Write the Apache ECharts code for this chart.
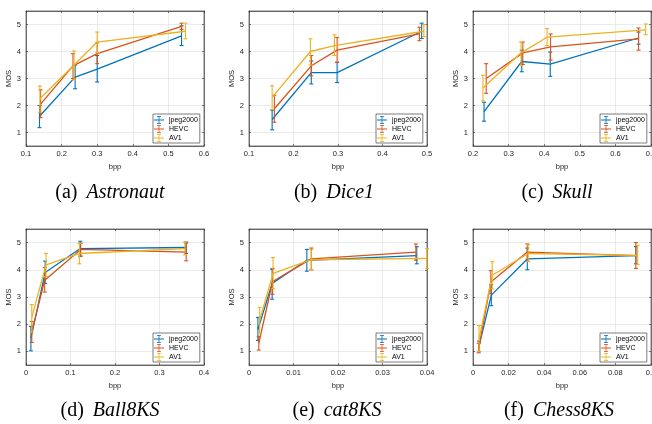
<!DOCTYPE html>
<html>
<head>
<meta charset="utf-8">
<script src="https://cdn.jsdelivr.net/npm/echarts@6/dist/echarts.min.js"></script>
<style>
html, body { margin: 0; padding: 0; background: #fff; }
#chart { width: 652px; height: 424px; }
</style>
</head>
<body>
<div id="chart"></div>
<script>
// codecs, in drawing order (MATLAB default colours)
var codecs = ['jpeg2000', 'HEVC', 'AV1'];
var colors = ['#0072BD', '#D95319', '#EDB120'];

// captions
var captionLetters = ['(a)', '(b)', '(c)', '(d)', '(e)', '(f)'];
var captionNames = ['Astronaut', 'Dice1', 'Skull', 'Ball8KS', 'cat8KS', 'Chess8KS'];

// x ticks per panel: [min, max, step]; y ticks shared
var xTicks = [[0.1, 0.6, 0.1], [0.1, 0.5, 0.1], [0.2, 0.7, 0.1], [0, 0.4, 0.1], [0, 0.04, 0.01], [0, 0.1, 0.02]];
var yTicks = [1, 2, 3, 4, 5];

// each array: rows = jpeg2000, HEVC, AV1
var astronautBpp  = [[0.138, 0.238, 0.300, 0.537], [0.141, 0.232, 0.300, 0.537], [0.139, 0.235, 0.300, 0.548]];
var astronautMos  = [[1.60, 3.05, 3.35, 4.58], [2.05, 3.47, 3.92, 4.93], [2.25, 3.50, 4.35, 4.75]];
var astronautLow  = [[1.18, 2.62, 2.87, 4.22], [1.55, 3.00, 3.55, 4.82], [1.75, 2.95, 3.95, 4.47]];
var astronautHigh = [[2.00, 3.50, 3.85, 4.95], [2.58, 3.92, 4.32, 5.05], [2.72, 4.02, 4.72, 5.05]];

var dice1Bpp  = [[0.152, 0.240, 0.298, 0.488], [0.157, 0.240, 0.298, 0.483], [0.152, 0.238, 0.292, 0.493]];
var dice1Mos  = [[1.48, 3.22, 3.22, 4.75], [1.88, 3.47, 4.05, 4.65], [2.30, 4.00, 4.22, 4.75]];
var dice1Low  = [[1.10, 2.80, 2.85, 4.48], [1.38, 3.10, 3.60, 4.40], [1.85, 3.50, 3.85, 4.55]];
var dice1High = [[1.83, 3.65, 3.60, 5.05], [2.38, 3.85, 4.52, 4.90], [2.73, 4.47, 4.62, 5.00]];

var skullBpp  = [[0.231, 0.337, 0.417, 0.665], [0.237, 0.340, 0.418, 0.665], [0.228, 0.335, 0.408, 0.685]];
var skullMos  = [[1.77, 3.63, 3.53, 4.50], [3.00, 3.95, 4.17, 4.47], [2.65, 3.95, 4.53, 4.80]];
var skullLow  = [[1.42, 3.25, 3.08, 4.27], [2.45, 3.52, 3.68, 4.05], [2.17, 3.48, 4.22, 4.62]];
var skullHigh = [[2.12, 4.05, 3.98, 4.72], [3.55, 4.35, 4.65, 4.87], [3.12, 4.35, 4.85, 5.02]];

var ballBpp  = [[0.011, 0.043, 0.122, 0.360], [0.013, 0.042, 0.123, 0.360], [0.013, 0.045, 0.120, 0.357]];
var ballMos  = [[1.48, 3.90, 4.78, 4.82], [1.72, 3.62, 4.75, 4.65], [2.25, 4.18, 4.60, 4.78]];
var ballLow  = [[1.02, 3.50, 4.50, 4.60], [1.33, 3.18, 4.50, 4.33], [1.70, 3.75, 4.22, 4.55]];
var ballHigh = [[1.92, 4.32, 5.05, 5.02], [2.10, 4.08, 4.98, 4.98], [2.72, 4.60, 4.97, 5.02]];

var catBpp  = [[0.0020, 0.0052, 0.0130, 0.0377], [0.0022, 0.0053, 0.0140, 0.0375], [0.0024, 0.0054, 0.0140, 0.0400]];
var catMos  = [[1.80, 3.50, 4.35, 4.52], [1.30, 3.57, 4.40, 4.65], [2.15, 3.87, 4.37, 4.42]];
var catLow  = [[1.40, 2.92, 3.95, 4.22], [1.05, 3.10, 4.00, 4.35], [1.65, 3.30, 4.00, 4.05]];
var catHigh = [[2.25, 4.02, 4.75, 4.85], [1.55, 4.05, 4.80, 4.95], [2.62, 4.45, 4.75, 4.78]];

var chessBpp  = [[0.0034, 0.0103, 0.0305, 0.0915], [0.0032, 0.0100, 0.0305, 0.0915], [0.0034, 0.0108, 0.0310, 0.0925]];
var chessMos  = [[1.20, 3.07, 4.40, 4.52], [1.10, 3.55, 4.65, 4.52], [1.45, 3.80, 4.60, 4.53]];
var chessLow  = [[1.00, 2.68, 4.00, 4.22], [0.95, 3.12, 4.35, 4.05], [1.00, 3.30, 4.30, 4.20]];
var chessHigh = [[1.38, 3.45, 4.80, 4.85], [1.30, 3.97, 4.95, 5.00], [1.95, 4.30, 4.92, 4.90]];

var panels = [
    [astronautBpp, astronautMos, astronautLow, astronautHigh],
    [dice1Bpp, dice1Mos, dice1Low, dice1High],
    [skullBpp, skullMos, skullLow, skullHigh],
    [ballBpp, ballMos, ballLow, ballHigh],
    [catBpp, catMos, catLow, catHigh],
    [chessBpp, chessMos, chessLow, chessHigh]
];

// layout
var gridLefts = [26, 249, 473];
var gridTops = [11, 229];
var gridHeights = [135, 136];
var gridWidth = 178;
var captionX = [110, 334, 557, 110, 337, 559];
var captionTop = [183, 401];

var axisColor = '#262626';
var font = 'Liberation Sans';

// error bar glyph for the legend
var errIcon = 'path://M0,3.6H10V4.4H0Z M4.6,0H5.4V8H4.6Z M3,0H7V0.8H3Z M3,7.2H7V8H3Z';

function renderErrorBar(params, api) {
    var x = api.value(0);
    var lo = api.coord([x, api.value(1)]);
    var hi = api.coord([x, api.value(2)]);
    var c = api.visual('color');
    var half = 2;
    function seg(x1, y1, x2, y2) {
        return { type: 'line', shape: { x1: x1, y1: y1, x2: x2, y2: y2 }, style: { stroke: c, lineWidth: 1.1 } };
    }
    return {
        type: 'group',
        children: [
            seg(lo[0], lo[1], hi[0], hi[1]),
            seg(lo[0] - half, lo[1], lo[0] + half, lo[1]),
            seg(hi[0] - half, hi[1], hi[0] + half, hi[1])
        ]
    };
}

var grids = [], xAxes = [], yAxes = [], series = [], legends = [], titles = [];
var topX = [], rightY = [];

for (var i = 0; i < 6; i++) {
    var col = i % 3, row = Math.floor(i / 3);
    var gl = gridLefts[col], gt = gridTops[row], gh = gridHeights[row];
    grids.push({
        left: gl, top: gt, width: gridWidth, height: gh,
        outerBoundsMode: 'none', containLabel: false,
        show: true, backgroundColor: '#fff',
        borderColor: axisColor, borderWidth: 0.6
    });
    xAxes.push({
        gridIndex: i, type: 'value', position: 'bottom',
        min: xTicks[i][0], max: xTicks[i][1], interval: xTicks[i][2],
        name: 'bpp', nameLocation: 'middle', nameGap: 17,
        nameTextStyle: { fontSize: 7.5, color: axisColor, fontFamily: font },
        axisLine: { show: true, onZero: false, lineStyle: { color: axisColor, width: 0.6 } },
        axisTick: { show: true, inside: true, length: 2, lineStyle: { color: axisColor, width: 0.6 } },
        axisLabel: { fontSize: 7.5, color: axisColor, margin: 4, fontFamily: font },
        splitLine: { show: true, lineStyle: { color: '#e2e2e2', width: 0.7 } }
    });
    topX.push({
        gridIndex: i, type: 'value', position: 'top',
        min: xTicks[i][0], max: xTicks[i][1], interval: xTicks[i][2],
        axisLine: { show: true, onZero: false, lineStyle: { color: axisColor, width: 0.6 } },
        axisTick: { show: true, inside: true, length: 2, lineStyle: { color: axisColor, width: 0.6 } },
        axisLabel: { show: false },
        splitLine: { show: false }
    });
    yAxes.push({
        gridIndex: i, type: 'value', position: 'left',
        min: 0.5, max: 5.5,
        name: 'MOS', nameLocation: 'middle', nameGap: 8,
        nameTextStyle: { fontSize: 7.5, color: axisColor, fontFamily: font },
        axisLine: { show: true, onZero: false, lineStyle: { color: axisColor, width: 0.6 } },
        axisTick: { show: true, inside: true, length: 2, customValues: yTicks, lineStyle: { color: axisColor, width: 0.6 } },
        axisLabel: { fontSize: 7.5, color: axisColor, margin: 5, fontFamily: font, customValues: yTicks },
        splitLine: { show: true, lineStyle: { color: '#e2e2e2', width: 0.7 } }
    });
    rightY.push({
        gridIndex: i, type: 'value', position: 'right',
        min: 0.5, max: 5.5,
        axisLine: { show: true, onZero: false, lineStyle: { color: axisColor, width: 0.6 } },
        axisTick: { show: true, inside: true, length: 2, customValues: yTicks, lineStyle: { color: axisColor, width: 0.6 } },
        axisLabel: { show: false },
        splitLine: { show: false }
    });

    var p = panels[i];
    for (var c = 0; c < 3; c++) {
        var lineData = [], barData = [];
        for (var k = 0; k < p[0][c].length; k++) {
            lineData.push([p[0][c][k], p[1][c][k]]);
            barData.push([p[0][c][k], p[2][c][k], p[3][c][k]]);
        }
        series.push({
            type: 'line', name: codecs[c], xAxisIndex: i, yAxisIndex: i,
            data: lineData, showSymbol: false, z: 2 + c,
            itemStyle: { color: colors[c] },
            lineStyle: { color: colors[c], width: 1.3 }
        });
        series.push({
            type: 'custom', name: codecs[c], xAxisIndex: i, yAxisIndex: i,
            data: barData, z: 2 + c,
            itemStyle: { color: colors[c] },
            encode: { x: 0, y: [1, 2] },
            renderItem: renderErrorBar
        });
    }

    legends.push({
        orient: 'vertical',
        left: gl + gridWidth - 51, top: gt + gh - 32,
        itemWidth: 10, itemHeight: 8, itemGap: 1,
        padding: [2, 2, 1, 1],
        backgroundColor: '#fff', borderColor: axisColor, borderWidth: 0.6, borderRadius: 0,
        textStyle: { fontSize: 7, color: '#000', fontFamily: font },
        selectedMode: false,
        data: codecs.map(function(n) { return { name: n, icon: errIcon }; })
    });

    titles.push({
        text: '{l|' + captionLetters[i] + '}{s| }{n|' + captionNames[i] + '}',
        left: captionX[i], top: captionTop[row], textAlign: 'center',
        padding: 0,
        textStyle: {
            fontWeight: 'normal',
            rich: {
                l: { fontFamily: 'Liberation Serif', fontSize: 20, fontWeight: 'normal', color: '#000' },
                s: { fontFamily: 'Liberation Serif', fontSize: 20, width: 9 },
                n: { fontFamily: 'Liberation Serif', fontSize: 20, fontWeight: 'normal', fontStyle: 'italic', color: '#000' }
            }
        }
    });
}

var myChart = echarts.init(document.getElementById('chart'));
myChart.setOption({
    animation: false,
    backgroundColor: '#fff',
    title: titles,
    legend: legends,
    grid: grids,
    xAxis: xAxes.concat(topX),
    yAxis: yAxes.concat(rightY),
    series: series
});
</script>
</body>
</html>
